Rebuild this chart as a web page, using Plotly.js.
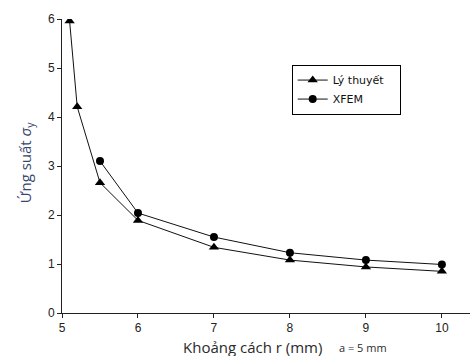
<!DOCTYPE html>
<html>
<head>
<meta charset="utf-8">
<script src="https://cdn.plot.ly/plotly-3.0.1.min.js"></script>
<style>html,body{margin:0;padding:0;background:#fff;}#chart{width:470px;height:356px;}</style>
</head>
<body>
<div id="chart"></div>
<script>
// Data
const theoryX = [5.1, 5.2, 5.5, 6, 7, 8, 9, 10];
const theoryY = [5.96, 4.21, 2.66, 1.89, 1.34, 1.08, 0.94, 0.85];
const xfemX = [5.5, 6, 7, 8, 9, 10];
const xfemY = [3.10, 2.04, 1.55, 1.23, 1.08, 0.99];
const seriesNames = ["Lý thuyết", "XFEM"];
const xTicks = [5, 6, 7, 8, 9, 10];
const yTicks = [0, 1, 2, 3, 4, 5, 6];

const pad = "\u00a0\u00a0\u00a0";
const traces = [
  {x: theoryX, y: theoryY, name: seriesNames[0] + pad, type: "scatter", mode: "lines+markers",
   line: {color: "#111", width: 1}, marker: {symbol: "triangle-up", size: 9, color: "#000"}},
  {x: xfemX, y: xfemY, name: seriesNames[1], type: "scatter", mode: "lines+markers",
   line: {color: "#111", width: 1}, marker: {symbol: "circle", size: 8, color: "#000"}}
];

const layout = {
  width: 470, height: 356,
  margin: {l: 62, r: 0, t: 19, b: 43},
  paper_bgcolor: "#fff", plot_bgcolor: "#fff",
  showlegend: true,
  legend: {x: 0.563, y: 0.845, xanchor: "left", yanchor: "top",
           bordercolor: "#000", borderwidth: 1, bgcolor: "#fff",
           font: {family: "DejaVu Sans, Verdana, sans-serif", size: 11, color: "#111"}},
  xaxis: {range: [5, 10.37], tickvals: xTicks, ticktext: xTicks.map(String),
          showgrid: false, zeroline: false, showline: true, linecolor: "#222", linewidth: 1,
          ticks: "outside", ticklen: 4, tickcolor: "#222",
          tickfont: {family: "Liberation Sans, Arial, sans-serif", size: 12, color: "#222"}},
  yaxis: {range: [0, 6], tickvals: yTicks, ticktext: yTicks.map(String),
          showgrid: false, zeroline: false, showline: true, linecolor: "#222", linewidth: 1,
          ticks: "outside", ticklen: 4, tickcolor: "#222",
          tickfont: {family: "Liberation Sans, Arial, sans-serif", size: 12, color: "#222"}},
  annotations: [
    {text: "Khoảng cách r (mm)", xref: "paper", yref: "paper", x: (252 - 62) / 408, y: -0.117,
     xanchor: "center", yanchor: "middle", showarrow: false,
     font: {family: "Open Sans, sans-serif", size: 15, color: "#2a2a2a"}},
    {text: "a = 5 mm", xref: "paper", yref: "paper", x: (363 - 62) / 408, y: -0.117,
     xanchor: "center", yanchor: "middle", showarrow: false,
     font: {family: "Open Sans, sans-serif", size: 11, color: "#2a2a2a"}},
    {text: "Ứng suất <i>σ</i><sub>y</sub>", xref: "paper", yref: "paper", x: -0.088, y: 0.51,
     xanchor: "center", yanchor: "middle", textangle: -90, showarrow: false,
     font: {family: "Open Sans, sans-serif", size: 15, color: "#37466e"}}
  ]
};

Plotly.newPlot("chart", traces, layout, {displayModeBar: false, staticPlot: true});
</script>
</body>
</html>
